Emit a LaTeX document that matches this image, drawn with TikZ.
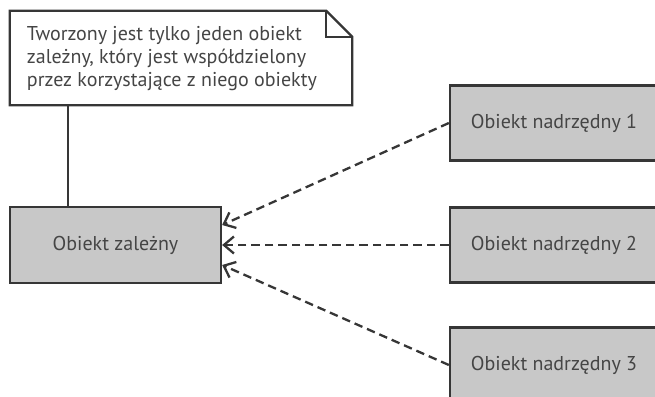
\documentclass[tikz,border=0pt]{standalone}
\usepackage{fontspec}
\setmainfont{PT Sans}
\usetikzlibrary{arrows.meta}
\definecolor{boxgray}{HTML}{C8C8C8}
\definecolor{linegray}{HTML}{363636}
\definecolor{textgray}{HTML}{454545}

\begin{document}
\begin{tikzpicture}[x=1pt,y=-1pt,
  obj/.style={draw=linegray,line width=2.3pt,fill=boxgray,text=textgray,
    minimum width=211pt,minimum height=76pt,font=\fontsize{20}{23}\selectfont},
  uses/.style={linegray,line width=2.3pt,dash pattern=on 8.5pt off 5pt,
    -{Straight Barb[length=10pt,width=17pt]}}]
  \useasboundingbox (0,0) rectangle (655,396);
  % obiekty
  \node[obj] (dep) at (115.5,245) {Obiekt zależny};
  \foreach \i/\y in {1/123,2/245,3/365}
    \node[obj,minimum width=208pt,minimum height=75pt] (par\i) at (554,\y) {Obiekt nadrzędny \i};
  % notatka
  \node[minimum width=342pt,minimum height=94pt] (note) at (181,58) {};
  \node[text=textgray,anchor=north west,inner sep=0pt,align=left,
    font=\fontsize{20}{23}\selectfont] (notetext) at ([xshift=17pt,yshift=-15pt]note.north west)
    {Tworzony jest tylko jeden obiekt\\zależny, który jest współdzielony\\przez korzystające z niego obiekty};
  \draw[linegray,line width=2.3pt,line join=miter] (note.north west) -- ([xshift=-26pt]note.north east)
    -- ([yshift=-26pt]note.north east) -- (note.south east) -- (note.south west) -- cycle;
  \draw[linegray,line width=2.3pt] ([xshift=-26pt]note.north east) -- ([xshift=-26pt,yshift=-26pt]note.north east)
    -- ([yshift=-26pt]note.north east);
  \draw[linegray,line width=2.3pt] ([xshift=-47.5pt]dep.north) -- ([xshift=-47.5pt]dep.north |- note.south);
  % zaleznosci
  \draw[uses] (par1.west) -- ([yshift=20pt]dep.east);
  \draw[uses] (par2.west) -- (dep.east);
  \draw[uses] (par3.west) -- ([yshift=-20pt]dep.east);
\end{tikzpicture}
\end{document}
